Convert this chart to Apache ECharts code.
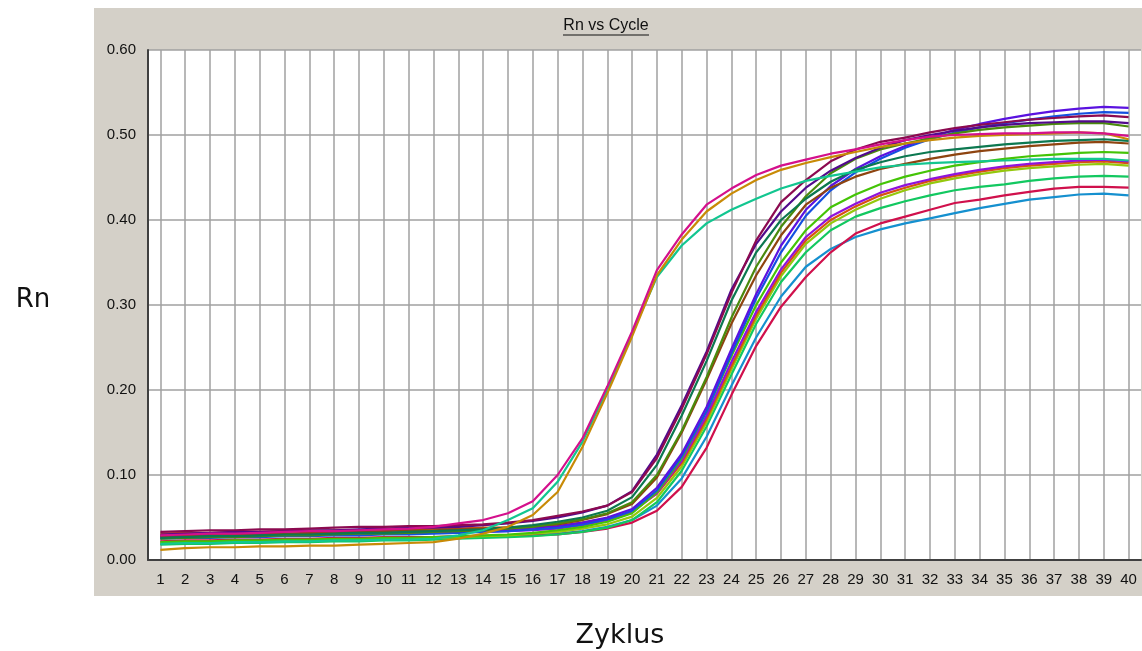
<!DOCTYPE html>
<html>
<head>
<meta charset="utf-8">
<script src="https://cdn.jsdelivr.net/npm/echarts@6/dist/echarts.min.js"></script>
<style>
  html, body { margin: 0; padding: 0; background: #ffffff; }
  #panel { position: absolute; left: 94px; top: 8px; width: 1048px; height: 588px; background: #d4d0c8; }
  #chart { position: absolute; left: 0; top: 0; width: 1142px; height: 651px; }
</style>
</head>
<body>
<div id="panel"></div>
<div id="chart"></div>
<script>
const cycles = ['1','2','3','4','5','6','7','8','9','10','11','12','13','14','15','16','17','18','19','20',
  '21','22','23','24','25','26','27','28','29','30','31','32','33','34','35','36','37','38','39','40'];
const yTicks = [0, 0.1, 0.2, 0.3, 0.4, 0.5, 0.6];

const magenta = [0.029,0.030,0.031,0.031,0.032,0.033,0.034,0.034,0.035,0.036,0.037,0.039,
  0.043,0.047,0.055,0.069,0.100,0.143,0.204,0.269,
  0.341,0.383,0.418,0.437,0.453,0.464,0.471,0.478,0.483,0.489,
  0.494,0.498,0.500,0.501,0.502,0.502,0.503,0.503,0.502,0.499];
const gold = [0.012,0.014,0.015,0.015,0.016,0.016,0.017,0.017,0.018,0.019,0.020,0.021,
  0.025,0.031,0.039,0.053,0.080,0.133,0.196,0.263,
  0.335,0.377,0.410,0.431,0.447,0.459,0.467,0.474,0.480,0.486,
  0.490,0.494,0.497,0.499,0.500,0.501,0.502,0.503,0.502,0.495];
const teal = [0.019,0.020,0.020,0.021,0.021,0.022,0.022,0.023,0.023,0.024,0.024,0.025,
  0.029,0.035,0.047,0.061,0.092,0.139,0.200,0.267,
  0.333,0.370,0.396,0.412,0.425,0.437,0.446,0.452,0.457,0.462,
  0.465,0.467,0.468,0.469,0.470,0.471,0.472,0.472,0.472,0.470];
const maroon = [0.033,0.034,0.035,0.035,0.036,0.036,0.037,0.038,0.039,0.039,0.040,0.040,0.041,0.042,0.044,0.047,
  0.052,0.057,0.064,0.080,0.120,0.178,0.242,0.314,
  0.376,0.421,0.447,0.469,0.483,0.492,0.497,0.503,
  0.508,0.512,0.515,0.518,0.520,0.522,0.523,0.521];
const indigo = [0.030,0.031,0.032,0.033,0.033,0.034,0.035,0.035,0.036,0.037,0.038,0.038,0.039,0.041,0.043,0.046,
  0.050,0.056,0.064,0.081,0.124,0.182,0.245,0.318,
  0.372,0.410,0.438,0.458,0.473,0.485,0.494,0.500,
  0.505,0.509,0.512,0.514,0.515,0.516,0.516,0.514];
const darkGreen = [0.026,0.027,0.028,0.028,0.029,0.030,0.030,0.031,0.032,0.032,0.033,0.034,0.035,0.036,0.038,0.041,
  0.045,0.050,0.058,0.074,0.112,0.170,0.234,0.305,
  0.362,0.400,0.425,0.445,0.459,0.468,0.475,0.480,
  0.483,0.486,0.489,0.491,0.493,0.494,0.495,0.493];
const olive = [0.025,0.026,0.027,0.027,0.028,0.029,0.029,0.030,0.031,0.031,0.032,0.033,0.034,0.035,0.037,0.039,
  0.043,0.048,0.055,0.068,0.100,0.152,0.215,0.285,
  0.345,0.392,0.428,0.455,0.472,0.483,0.490,0.496,
  0.502,0.506,0.509,0.511,0.513,0.514,0.514,0.510];
const brown = [0.028,0.029,0.030,0.030,0.031,0.031,0.032,0.033,0.033,0.034,0.035,0.035,0.036,0.037,0.038,0.040,
  0.042,0.047,0.054,0.066,0.097,0.150,0.212,0.278,
  0.335,0.382,0.418,0.438,0.451,0.460,0.466,0.472,
  0.477,0.481,0.484,0.487,0.489,0.491,0.492,0.490];
const purpleBlue = [0.027,0.028,0.028,0.029,0.030,0.030,0.031,0.031,0.032,0.032,0.033,0.033,0.034,0.035,0.036,0.038,
  0.040,0.044,0.050,0.060,0.085,0.125,0.180,0.248,
  0.313,0.370,0.412,0.440,0.460,0.475,0.487,0.497,
  0.506,0.513,0.519,0.524,0.528,0.531,0.533,0.532];
const blue = [0.025,0.026,0.026,0.027,0.027,0.028,0.028,0.029,0.029,0.030,0.030,0.031,0.032,0.033,0.034,0.036,
  0.038,0.042,0.048,0.058,0.082,0.122,0.175,0.243,
  0.308,0.362,0.405,0.435,0.456,0.472,0.485,0.495,
  0.503,0.509,0.514,0.518,0.522,0.525,0.527,0.526];
const lightGreen = [0.021,0.022,0.022,0.023,0.023,0.024,0.024,0.025,0.025,0.026,0.026,0.027,0.028,0.029,0.030,0.032,
  0.035,0.039,0.045,0.055,0.080,0.120,0.175,0.240,
  0.300,0.350,0.388,0.415,0.430,0.442,0.451,0.458,
  0.464,0.468,0.472,0.475,0.477,0.479,0.480,0.479];
const violet = [0.027,0.027,0.028,0.028,0.029,0.029,0.030,0.030,0.031,0.031,0.032,0.032,0.033,0.033,0.034,0.035,
  0.037,0.041,0.047,0.056,0.079,0.117,0.170,0.233,
  0.292,0.342,0.380,0.404,0.419,0.432,0.441,0.448,
  0.454,0.459,0.463,0.466,0.468,0.470,0.471,0.469];
const orangeRed = [0.031,0.032,0.032,0.033,0.033,0.034,0.034,0.035,0.035,0.036,0.036,0.037,0.037,0.038,0.038,0.039,
  0.040,0.044,0.049,0.057,0.078,0.114,0.166,0.228,
  0.288,0.338,0.376,0.400,0.416,0.429,0.438,0.446,
  0.452,0.457,0.461,0.464,0.466,0.468,0.469,0.467];
const yellowGreen = [0.020,0.021,0.021,0.022,0.022,0.023,0.023,0.024,0.024,0.025,0.025,0.026,0.027,0.028,0.029,0.031,
  0.033,0.037,0.042,0.051,0.073,0.110,0.162,0.224,
  0.284,0.334,0.372,0.396,0.412,0.425,0.435,0.443,
  0.449,0.454,0.458,0.461,0.463,0.465,0.466,0.464];
const green = [0.018,0.019,0.019,0.020,0.020,0.021,0.021,0.022,0.022,0.023,0.023,0.024,0.025,0.026,0.027,0.028,
  0.030,0.033,0.038,0.047,0.068,0.105,0.157,0.218,
  0.278,0.327,0.362,0.388,0.404,0.414,0.422,0.429,
  0.435,0.439,0.442,0.446,0.449,0.451,0.452,0.451];
const skyBlue = [0.019,0.020,0.020,0.021,0.021,0.022,0.022,0.023,0.023,0.024,0.024,0.025,0.026,0.027,0.028,0.029,
  0.031,0.034,0.039,0.047,0.064,0.096,0.145,0.205,
  0.262,0.310,0.345,0.366,0.380,0.389,0.396,0.402,
  0.408,0.414,0.419,0.424,0.427,0.430,0.431,0.429];
const crimson = [0.022,0.023,0.023,0.024,0.024,0.025,0.025,0.026,0.026,0.027,0.027,0.027,0.028,0.028,0.029,0.029,
  0.030,0.033,0.037,0.044,0.058,0.086,0.132,0.194,
  0.252,0.298,0.333,0.362,0.384,0.396,0.404,0.412,
  0.420,0.424,0.429,0.433,0.437,0.439,0.439,0.438];

const seriesDefs = [
  ['skyBlue', skyBlue, '#1590cf'],
  ['crimson', crimson, '#d0104c'],
  ['green', green, '#12c860'],
  ['yellowGreen', yellowGreen, '#94c80c'],
  ['orangeRed', orangeRed, '#d85210'],
  ['violet', violet, '#9012dc'],
  ['lightGreen', lightGreen, '#44c406'],
  ['blue', blue, '#1450e0'],
  ['purpleBlue', purpleBlue, '#5a12e0'],
  ['brown', brown, '#8e4410'],
  ['olive', olive, '#4a8a0c'],
  ['darkGreen', darkGreen, '#0c7850'],
  ['indigo', indigo, '#520a8c'],
  ['maroon', maroon, '#8c0a50'],
  ['teal', teal, '#12c690'],
  ['gold', gold, '#c88a06'],
  ['magenta', magenta, '#d4108c']
];

const chart = echarts.init(document.getElementById('chart'), null, { renderer: 'canvas' });
const tickFont = 'Liberation Sans';

chart.setOption({
  backgroundColor: 'transparent',
  animation: false,
  grid: {
    left: 148, top: 50, width: 993, height: 510,
    show: true, backgroundColor: '#ffffff', borderWidth: 0
  },
  xAxis: {
    type: 'category',
    data: cycles,
    boundaryGap: true,
    axisLine: { show: true, lineStyle: { color: '#404040', width: 2 } },
    axisTick: { show: false, alignWithLabel: true },
    axisLabel: { color: '#111', fontFamily: tickFont, fontSize: 15, margin: 12, interval: 0 },
    splitLine: { show: true, alignWithLabel: true, interval: 0, lineStyle: { color: '#a0a0a0', width: 1.5 } }
  },
  yAxis: {
    type: 'value',
    min: yTicks[0], max: yTicks[yTicks.length - 1], interval: 0.1,
    axisLine: { show: true, lineStyle: { color: '#404040', width: 2 } },
    axisTick: { show: false },
    axisLabel: { color: '#111', fontFamily: tickFont, fontSize: 15, margin: 12,
      formatter: v => v.toFixed(2) },
    splitLine: { show: true, lineStyle: { color: '#a0a0a0', width: 1.5 } }
  },
  graphic: [
    { type: 'text', x: 606, y: 26,
      style: { text: 'Rn vs Cycle', font: '16px "Liberation Sans"', fill: '#111', textAlign: 'center', textVerticalAlign: 'middle' } },
    { type: 'line', shape: { x1: 563, y1: 35, x2: 649, y2: 35 },
      style: { stroke: '#111', lineWidth: 1 } },
    { type: 'text', x: 33, y: 300,
      style: { text: 'Rn', font: '26px "DejaVu Sans"', fill: '#111', textAlign: 'center', textVerticalAlign: 'middle' } },
    { type: 'text', x: 620, y: 636,
      style: { text: 'Zyklus', font: '27px "DejaVu Sans"', fill: '#111', textAlign: 'center', textVerticalAlign: 'middle' } }
  ],
  series: seriesDefs.map(([name, data, color]) => ({
    name, type: 'line', data, showSymbol: false, symbol: 'none',
    lineStyle: { color, width: 2.2 }, itemStyle: { color }
  }))
});
</script>
</body>
</html>
